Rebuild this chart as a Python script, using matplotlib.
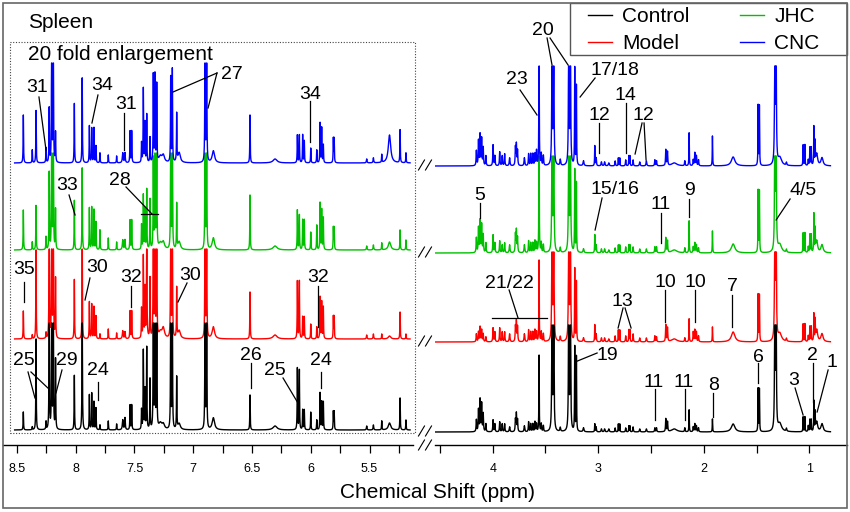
import numpy as np
import matplotlib
matplotlib.use('Agg')
import matplotlib.pyplot as plt
from matplotlib.patches import Rectangle
from matplotlib.lines import Line2D

plt.rcParams['font.family'] = ['Liberation Sans', 'DejaVu Sans']

# ---------------- data ----------------
groups = ['Control', 'Model', 'JHC', 'CNC']
colors = ['#000000', '#ff0000', '#00c000', '#0000ff']

# Left panel (8.5-5.2 ppm, 20 fold enlargement): peak position, half width, heights per group
left_ppm = [8.446, 8.370, 8.338, 8.253, 8.226, 8.205, 8.191, 8.172, 8.012, 7.945,
            7.884, 7.864, 7.845, 7.828, 7.794, 7.723, 7.652, 7.600, 7.581, 7.538,
            7.524, 7.440, 7.425, 7.411, 7.396, 7.368, 7.340, 7.326, 7.311, 7.280,
            7.255, 7.192, 7.178, 7.141, 7.120, 6.900, 6.886, 6.829, 6.517, 6.304,
            6.114, 6.097, 6.069, 6.055, 6.000, 5.949, 5.921, 5.907, 5.893, 5.808,
            5.801, 5.524, 5.467, 5.396, 5.330, 5.240, 5.190]
left_hw = [.002, .002, .002, .002, .002, .002, .002, .002, .002, .002,
           .002, .002, .002, .002, .002, .002, .002, .004, .003, .002,
           .002, .002, .002, .002, .002, .002, .002, .002, .002, .015,
           .012, .002, .002, .002, .012, .002, .002, .012, .002, .020,
           .002, .002, .002, .002, .002, .002, .002, .002, .002, .002,
           .002, .003, .003, .002, .012, .002, .002]
left_control = [18, 3, 92, 8, 150, 150, 150, 70, 55, 150,
                35, 37, 28, 22, 5, 9, 6, 10, 12, 25,
                25, 20, 80, 40, 82, 50, 150, 150, 150, 6,
                5, 150, 150, 52, 6, 150, 150, 12, 35, 4,
                62, 60, 20, 20, 18, 10, 37, 28, 28, 18,
                18, 4, 5, 9, 7, 32, 10]
left_model = [28, 4, 90, 6, 150, 150, 150, 60, 60, 95,
              37, 35, 32, 23, 5, 10, 6, 8, 7, 28,
              28, 30, 83, 50, 150, 60, 150, 150, 150, 6,
              10, 150, 150, 50, 8, 150, 150, 12, 47, 4,
              58, 58, 22, 22, 15, 12, 42, 37, 32, 22,
              22, 4, 5, 5, 3, 27, 5]
left_jhc = [40, 8, 45, 13, 78, 150, 150, 40, 50, 82,
            42, 43, 40, 28, 20, 12, 8, 10, 10, 30,
            30, 25, 55, 40, 60, 50, 90, 150, 150, 6,
            7, 150, 150, 45, 8, 150, 150, 12, 55, 4,
            40, 35, 30, 30, 18, 25, 47, 40, 32, 22,
            22, 4, 5, 7, 8, 20, 10]
left_cnc = [48, 13, 53, 15, 55, 150, 150, 30, 60, 85,
            37, 35, 35, 17, 10, 8, 7, 10, 10, 32,
            32, 20, 75, 40, 48, 25, 88, 88, 78, 6,
            7, 85, 93, 48, 10, 150, 150, 12, 48, 4,
            28, 28, 28, 22, 15, 13, 40, 35, 18, 24,
            24, 4, 5, 8, 28, 33, 10]

# Right panel (4.5-0.8 ppm)
right_ppm = [4.155, 4.135, 4.120, 4.105, 4.090, 4.065, 3.997, 3.980, 3.934, 3.910,
             3.887, 3.840, 3.785, 3.776, 3.765, 3.700, 3.660, 3.640, 3.620, 3.600,
             3.585, 3.561, 3.540, 3.520, 3.438, 3.422, 3.360, 3.280, 3.264, 3.223,
             3.207, 3.140, 3.033, 3.020, 2.970, 2.940, 2.900, 2.840, 2.810, 2.796,
             2.740, 2.710, 2.700, 2.670, 2.607, 2.544, 2.464, 2.448, 2.360, 2.344,
             2.280, 2.180, 2.139, 2.100, 2.085, 2.070, 2.050, 1.918, 1.722, 1.485,
             1.473, 1.327, 1.315, 1.280, 1.217, 1.059, 1.042, 1.010, 0.995, 0.982,
             0.957, 0.945, 0.930, 0.880]
right_hw = [.003, .003, .003, .003, .003, .003, .003, .003, .003, .003,
            .003, .004, .003, .003, .003, .004, .003, .003, .003, .003,
            .003, .002, .003, .003, .003, .003, .004, .003, .003, .002,
            .002, .005, .002, .003, .004, .004, .005, .003, .002, .002,
            .003, .002, .002, .003, .004, .004, .003, .003, .003, .003,
            .030, .003, .002, .003, .003, .003, .003, .002, .020, .002,
            .002, .003, .003, .020, .004, .002, .002, .003, .002, .002,
            .002, .002, .010, .012]
right_control = [12, 22, 32, 28, 18, 8, 12, 8, 10, 8,
                 8, 5, 12, 18, 12, 6, 10, 8, 8, 10,
                 8, 77, 8, 6, 150, 150, 4, 150, 150, 85,
                 75, 4, 8, 5, 3, 3, 3, 4, 8, 8,
                 4, 6, 6, 5, 3, 3, 4, 4, 13, 10,
                 3, 4, 22, 5, 8, 6, 4, 13, 8, 43,
                 43, 150, 150, 8, 3, 15, 15, 6, 12, 12,
                 30, 18, 10, 8]
right_model = [8, 10, 15, 12, 8, 5, 14, 10, 14, 10,
               10, 8, 15, 20, 15, 8, 12, 10, 10, 12,
               10, 82, 10, 8, 150, 150, 5, 150, 150, 73,
               60, 4, 17, 8, 4, 4, 3, 6, 12, 12,
               6, 12, 12, 8, 4, 4, 6, 5, 17, 14,
               3, 4, 23, 10, 12, 10, 6, 15, 10, 47,
               47, 150, 150, 8, 3, 18, 18, 6, 15, 15,
               27, 20, 12, 8]
right_jhc = [15, 25, 32, 28, 18, 10, 18, 10, 12, 8,
             10, 8, 18, 22, 15, 8, 12, 10, 10, 12,
             10, 150, 10, 8, 150, 150, 5, 150, 150, 83,
             70, 4, 18, 8, 4, 4, 3, 5, 8, 8,
             6, 8, 8, 6, 4, 4, 6, 6, 15, 12,
             3, 5, 32, 6, 10, 8, 5, 22, 9, 62,
             62, 150, 150, 8, 3, 20, 20, 6, 18, 18,
             38, 22, 12, 8]
right_cnc = [15, 25, 31, 27, 18, 10, 21, 10, 14, 10,
             12, 8, 18, 21, 15, 8, 12, 12, 12, 12,
             15, 150, 12, 10, 150, 150, 6, 150, 150, 98,
             80, 5, 20, 8, 4, 4, 3, 5, 8, 8,
             6, 10, 10, 6, 4, 5, 6, 5, 16, 14,
             3, 5, 33, 6, 13, 10, 6, 30, 9, 60,
             60, 150, 150, 8, 3, 21, 21, 6, 18, 18,
             38, 22, 12, 8]

# stacking offsets and clip heights per group (Control, Model, JHC, CNC)
left_offset = [15, 106, 195, 282]
right_offset = [13, 103, 192, 279]
clip_height = [107, 90, 97, 100]

left_ticks_major = [8.5, 8.0, 7.5, 7.0, 6.5, 6.0, 5.5]
left_tick_labels = ['8.5', '8', '7.5', '7', '6.5', '6', '5.5']
left_ticks_minor = [8.25, 7.75, 7.25, 6.75, 6.25, 5.75, 5.25]
right_ticks_major = [4, 3, 2, 1]
right_tick_labels = ['4', '3', '2', '1']
right_ticks_minor = [4.5, 3.5, 2.5, 1.5]

# annotations: label, text x (ppm), text y, leader segments (x1, y1, x2, y2)
left_notes = [
    ('31', 8.330, 360, [(8.313, 348, 8.253, 295)]),
    ('34', 7.777, 362, [(7.811, 350, 7.862, 322)]),
    ('31', 7.572, 343, [(7.589, 332, 7.589, 295)]),
    ('27', 6.670, 373, [(6.798, 372, 7.172, 353), (6.798, 372, 6.874, 337)]),
    ('34', 6.006, 353, [(6.006, 344, 6.006, 303)]),
    ('33', 8.074, 262, [(8.057, 250, 8.006, 230)]),
    ('28', 7.623, 267, [(7.572, 258, 7.351, 231), (7.445, 231, 7.300, 231)]),
    ('35', 8.440, 178, [(8.440, 163, 8.440, 143)]),
    ('30', 7.819, 180, [(7.879, 167, 7.921, 145)]),
    ('32', 7.530, 170, [(7.530, 159, 7.530, 138)]),
    ('30', 7.028, 172, [(7.053, 162, 7.130, 143)]),
    ('32', 5.938, 170, [(5.938, 159, 5.938, 118)]),
    ('25', 8.440, 87, [(8.406, 73, 8.347, 47), (8.381, 73, 8.228, 56)]),
    ('29', 8.074, 87, [(8.117, 75, 8.168, 52)]),
    ('24', 7.811, 77, [(7.811, 63, 7.811, 45)]),
    ('26', 6.509, 92, [(6.509, 82, 6.509, 57)]),
    ('25', 6.304, 77, [(6.236, 67, 6.109, 42)]),
    ('24', 5.913, 87, [(5.913, 73, 5.913, 57)]),
]
right_notes = [
    ('20', 3.523, 417, [(3.485, 407, 3.438, 380), (3.457, 407, 3.286, 380)]),
    ('23', 3.770, 368, [(3.741, 355, 3.580, 330)]),
    ('17/18', 2.841, 377, [(3.030, 367, 3.172, 348)]),
    ('12', 2.992, 332, [(2.992, 322, 2.992, 292)]),
    ('14', 2.746, 352, [(2.736, 342, 2.736, 292)]),
    ('12', 2.575, 332, [(2.585, 322, 2.651, 291), (2.566, 322, 2.547, 285)]),
    ('5', 4.120, 252, [(4.120, 242, 4.120, 227)]),
    ('15/16', 2.841, 258, [(2.964, 247, 3.030, 215)]),
    ('11', 2.413, 243, [(2.404, 232, 2.404, 202)]),
    ('9', 2.139, 257, [(2.139, 246, 2.139, 228)]),
    ('4/5', 1.057, 257, [(1.182, 246, 1.315, 225)]),
    ('21/22', 3.845, 164, [(3.845, 155, 3.760, 127), (4.007, 127, 3.485, 127)]),
    ('13', 2.774, 146, [(2.765, 137, 2.812, 117), (2.746, 137, 2.689, 117)]),
    ('10', 2.367, 165, [(2.367, 155, 2.367, 123)]),
    ('10', 2.082, 165, [(2.082, 155, 2.082, 123)]),
    ('7', 1.731, 161, [(1.731, 150, 1.731, 118)]),
    ('19', 2.916, 92, [(3.011, 92, 3.220, 83)]),
    ('11', 2.479, 65, [(2.460, 56, 2.460, 25)]),
    ('11', 2.195, 65, [(2.176, 56, 2.176, 25)]),
    ('8', 1.911, 62, [(1.911, 52, 1.911, 28)]),
    ('6', 1.484, 90, [(1.484, 82, 1.484, 62)]),
    ('3', 1.153, 67, [(1.135, 57, 1.059, 30)]),
    ('2', 0.969, 92, [(0.969, 82, 0.969, 43)]),
    ('1', 0.789, 85, [(0.822, 75, 0.926, 33)]),
]

# ---------------- drawing ----------------
W, H = 850, 512
fig = plt.figure(figsize=(W / 100, H / 100), dpi=100)


def fx(px):
    return px / W


def fy(py):
    return (H - py) / H


axL = fig.add_axes([fx(3), fy(445), fx(410), 442 / H])
axR = fig.add_axes([fx(435), fy(445), fx(412), 442 / H])


def spectrum(grid, ppm, hw, h):
    p = np.asarray(ppm)[:, None]
    w = np.asarray(hw)[:, None]
    a = np.asarray(h, dtype=float)[:, None]
    return (a * w ** 2 / ((grid[None, :] - p) ** 2 + w ** 2)).sum(axis=0)


gridL = np.linspace(8.52, 5.155, 7000)
gridR = np.linspace(4.55, 0.80, 8000)
left_sets = [left_control, left_model, left_jhc, left_cnc]
right_sets = [right_control, right_model, right_jhc, right_cnc]
zorders = [3, 2, 4, 5]

handles = []
for i in range(4):
    sL = spectrum(gridL, left_ppm, left_hw, left_sets[i])
    sR = spectrum(gridR, right_ppm, right_hw, right_sets[i])
    axL.plot(gridL, left_offset[i] + np.minimum(sL, clip_height[i]),
             color=colors[i], lw=1.0, zorder=zorders[i])
    ln, = axR.plot(gridR, right_offset[i] + np.minimum(sR, clip_height[i]),
                   color=colors[i], lw=1.0, zorder=zorders[i], label=groups[i])
    handles.append(ln)

for ax, lim, maj, lab, mnr in [(axL, (8.619, 5.130), left_ticks_major, left_tick_labels, left_ticks_minor),
                               (axR, (4.547, 0.643), right_ticks_major, right_tick_labels, right_ticks_minor)]:
    ax.set_xlim(*lim)
    ax.set_ylim(0, 442)
    ax.set_facecolor('none')
    for s in ['top', 'left', 'right']:
        ax.spines[s].set_visible(False)
    ax.spines['bottom'].set_linewidth(1.0)
    ax.set_yticks([])
    ax.set_xticks(maj)
    ax.set_xticklabels(lab)
    ax.set_xticks(mnr, minor=True)
    ax.tick_params(axis='x', which='both', direction='out', length=6, width=0.9,
                   labelsize=9, pad=7)

# annotations
for ax, notes in [(axL, left_notes), (axR, right_notes)]:
    for lab, tx, ty, segs in notes:
        ax.text(tx, ty - 7, lab, ha='center', va='baseline', fontsize=14,
                zorder=10, clip_on=False)
        for x1, y1, x2, y2 in segs:
            ax.plot([x1, x2], [y1, y2], color='black', lw=0.9, zorder=10, clip_on=False)

# dotted enlargement box
axL.add_patch(Rectangle((8.560, 12), 5.113 - 8.560, 391, fill=False, ls=(0, (1, 1.5)),
                        lw=0.8, edgecolor='#444444', clip_on=False, zorder=1))
axL.text(8.406, 417, 'Spleen', fontsize=15, ha='left', va='baseline')
axL.text(8.406, 385, '20 fold enlargement', fontsize=15, ha='left', va='baseline')

# axis break marks
for py in [165, 252, 341, 431, 445]:
    for px in [418.5, 425.5]:
        fig.add_artist(Line2D([fx(px), fx(px + 6)], [fy(py + 5), fy(py - 5)],
                              transform=fig.transFigure, color='black', lw=0.8))

# x label
fig.text(fx(437.5), fy(498), 'Chemical Shift (ppm)', ha='center', va='baseline', fontsize=15)

# legend
fig.add_artist(Rectangle((fx(570), fy(55)), fx(847) - fx(570), fy(3) - fy(55),
                         transform=fig.transFigure, fill=False, edgecolor='#555555', lw=1.0))
fig.legend(handles=handles, labels=groups, ncol=2, loc='upper left',
           bbox_to_anchor=(fx(588), fy(7)), frameon=False, fontsize=15,
           handlelength=1.15, handletextpad=0.5, columnspacing=2.4,
           labelspacing=0.38, borderpad=0, borderaxespad=0)

# outer frame
fig.add_artist(Rectangle((fx(3), fy(508)), fx(847) - fx(3), fy(3) - fy(508),
                         transform=fig.transFigure, fill=False, edgecolor='#666666', lw=1.2))

fig.savefig('out.png', dpi=100)
